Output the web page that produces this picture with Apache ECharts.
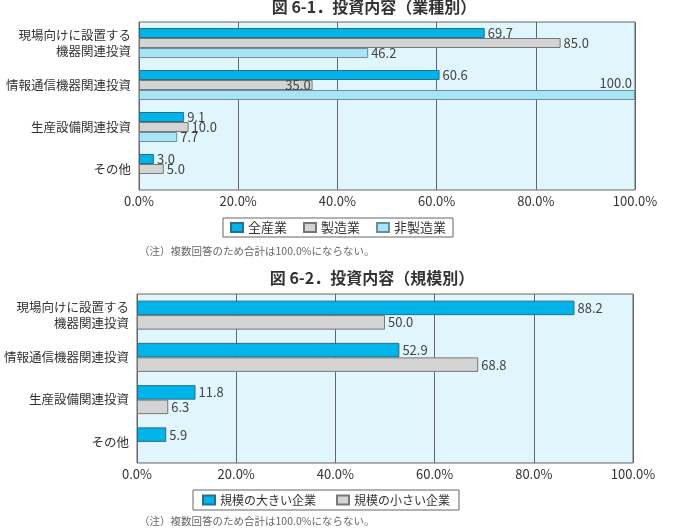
<!DOCTYPE html>
<html>
<head>
<meta charset="utf-8">
<script src="https://cdn.jsdelivr.net/npm/echarts@6/dist/echarts.min.js"></script>
<style>
  html, body { margin: 0; padding: 0; background: #fff; }
  #chart { width: 675px; height: 532px; }
</style>
</head>
<body>
<div id="chart"></div>
<script>
// カテゴリ（上から）
const categories = ['現場向けに設置する\n機器関連投資', '情報通信機器関連投資', '生産設備関連投資', 'その他'];

// 図6-1 業種別
const allIndustry = [69.7, 60.6, 9.1, 3.0];
const manufacturing = [85.0, 35.0, 10.0, 5.0];
const nonManufacturing = [46.2, 100.0, 7.7, null];

// 図6-2 規模別
const largeFirms = [88.2, 52.9, 11.8, 5.9];
const smallFirms = [50.0, 68.8, 6.3, null];

const xTicks = [0, 20, 40, 60, 80, 100];

const FONT = '"Noto Sans CJK JP", "Noto Sans", sans-serif';
const C_BLUE = '#00b3e9';
const C_GRAY = '#d4d4d4';
const C_LIGHT = '#a9e4f6';

const myChart = echarts.init(document.getElementById('chart'));

const labelBase = {
  show: true,
  position: 'right',
  distance: 3,
  color: '#444',
  fontSize: 13,
  fontFamily: FONT,
  formatter: p => p.value.toFixed(1),
};

function xAxisCfg(gridIndex) {
  return {
    gridIndex,
    type: 'value',
    min: xTicks[0],
    max: xTicks[xTicks.length - 1],
    interval: 20,
    axisLine: { show: false },
    axisTick: { show: false },
    splitLine: { show: true, lineStyle: { color: '#666', width: 1 } },
    axisLabel: {
      color: '#333',
      fontSize: 13,
      fontFamily: FONT,
      margin: 5,
      formatter: v => v.toFixed(1) + '%',
    },
  };
}

function yAxisCfg(gridIndex) {
  return {
    gridIndex,
    type: 'category',
    inverse: true,
    data: categories,
    axisLine: { show: false },
    axisTick: { show: false },
    axisLabel: {
      color: '#333',
      fontSize: 12.5,
      fontFamily: FONT,
      margin: 8,
      align: 'right',
      lineHeight: 16,
    },
  };
}

// 35.0 はバー内、100.0 はバー上に表示
const manufacturingData = manufacturing.map((v, i) => (i === 1
  ? { value: v, label: { position: 'insideRight', distance: 2, color: '#444' } }
  : v));
const nonManufacturingData = nonManufacturing.map((v, i) => (i === 1
  ? { value: v, label: { position: 'insideRight', offset: [0, -12], distance: 3 } }
  : v));

const option = {
  animation: false,
  backgroundColor: '#fff',
  title: [
    {
      text: '図 6-1．投資内容（業種別）',
      left: 369, top: -6, textAlign: 'center',
      textStyle: { fontFamily: FONT, fontSize: 16, fontWeight: 'bold', color: '#333' },
    },
    {
      text: '図 6-2．投資内容（規模別）',
      left: 367, top: 265, textAlign: 'center',
      textStyle: { fontFamily: FONT, fontSize: 16, fontWeight: 'bold', color: '#333' },
    },
  ],
  grid: [
    {
      left: 139, top: 22, width: 496, height: 168,
      containLabel: false, outerBoundsMode: 'none',
      show: true, backgroundColor: '#e1f5fc', borderColor: '#666', borderWidth: 1,
    },
    {
      left: 137, top: 294, width: 496, height: 169,
      containLabel: false, outerBoundsMode: 'none',
      show: true, backgroundColor: '#e1f5fc', borderColor: '#666', borderWidth: 1,
    },
  ],
  legend: [
    {
      data: ['全産業', '製造業', '非製造業'],
      left: 223, top: 218,
      icon: 'rect', itemWidth: 12, itemHeight: 9, itemGap: 16,
      borderColor: '#666', borderWidth: 1, padding: [3, 7, 3, 7],
      textStyle: { fontFamily: FONT, fontSize: 13, color: '#333' },
    },
    {
      data: ['規模の大きい企業', '規模の小さい企業'],
      left: 193, top: 490,
      icon: 'rect', itemWidth: 12, itemHeight: 9, itemGap: 20,
      borderColor: '#666', borderWidth: 1, padding: [4, 9, 4, 9],
      textStyle: { fontFamily: FONT, fontSize: 12, color: '#333' },
    },
  ],
  graphic: [
    {
      type: 'text', left: 139, top: 246,
      style: { text: '（注）複数回答のため合計は100.0%にならない。', fill: '#666', font: '10.5px ' + FONT },
    },
    {
      type: 'text', left: 139, top: 516,
      style: { text: '（注）複数回答のため合計は100.0%にならない。', fill: '#666', font: '10.5px ' + FONT },
    },
  ],
  xAxis: [xAxisCfg(0), xAxisCfg(1)],
  yAxis: [yAxisCfg(0), yAxisCfg(1)],
  series: [
    {
      name: '全産業', type: 'bar', xAxisIndex: 0, yAxisIndex: 0,
      data: allIndustry, barWidth: 10, barGap: '0%',
      itemStyle: { color: C_BLUE, borderColor: '#2a6f88', borderWidth: 1 },
      label: labelBase,
    },
    {
      name: '製造業', type: 'bar', xAxisIndex: 0, yAxisIndex: 0,
      data: manufacturingData, barWidth: 10, barGap: '0%',
      itemStyle: { color: C_GRAY, borderColor: '#777', borderWidth: 1 },
      label: labelBase,
    },
    {
      name: '非製造業', type: 'bar', xAxisIndex: 0, yAxisIndex: 0,
      data: nonManufacturingData, barWidth: 10, barGap: '0%',
      itemStyle: { color: C_LIGHT, borderColor: '#6a8f9a', borderWidth: 1 },
      label: labelBase,
    },
    {
      name: '規模の大きい企業', type: 'bar', xAxisIndex: 1, yAxisIndex: 1,
      data: largeFirms, barWidth: 14.5, barGap: '0%',
      itemStyle: { color: C_BLUE, borderColor: '#2a6f88', borderWidth: 1 },
      label: labelBase,
    },
    {
      name: '規模の小さい企業', type: 'bar', xAxisIndex: 1, yAxisIndex: 1,
      data: smallFirms, barWidth: 14.5, barGap: '0%',
      itemStyle: { color: C_GRAY, borderColor: '#777', borderWidth: 1 },
      label: labelBase,
    },
  ],
};

myChart.setOption(option);
</script>
</body>
</html>
